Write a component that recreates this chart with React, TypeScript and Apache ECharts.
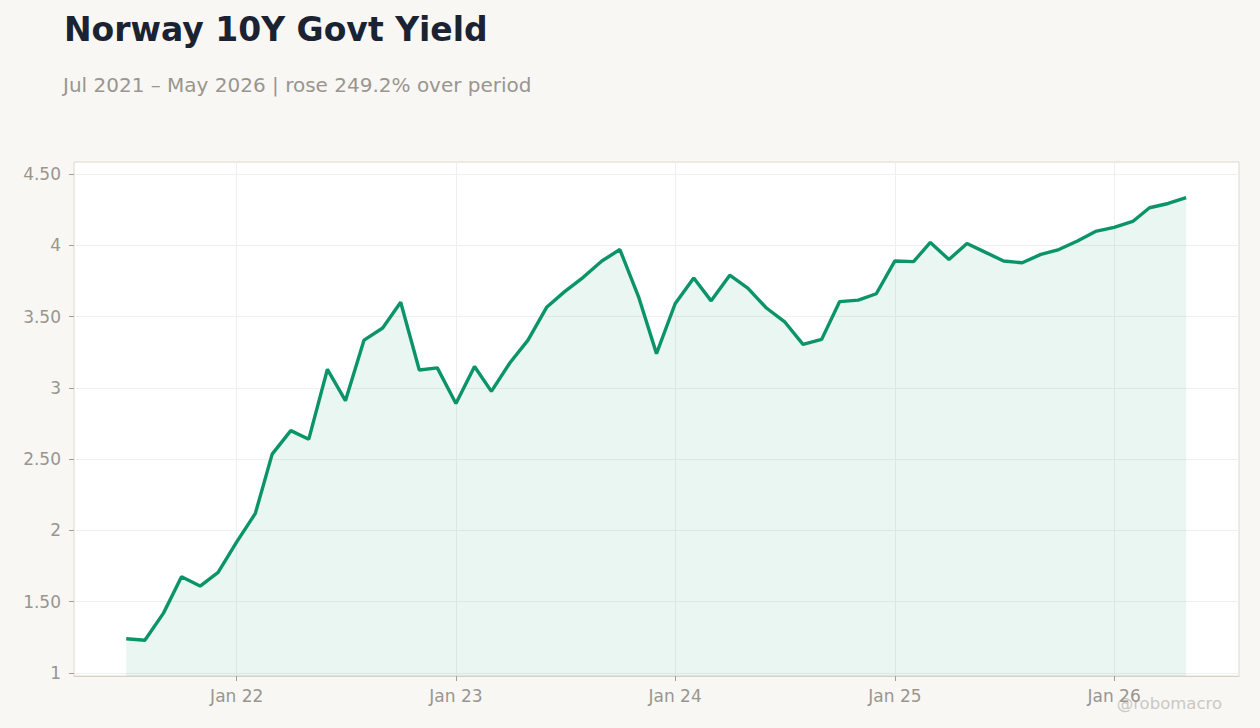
import {useEffect, useRef} from "react";
import * as echarts from "echarts";

// monthly yields, Jul 2021 .. May 2026
const yields = [
    1.24, 1.23, 1.42, 1.675, 1.61, 1.706,
    1.92, 2.12, 2.535, 2.70, 2.64, 3.13, 2.91, 3.335, 3.42, 3.60, 3.125, 3.14,
    2.89, 3.15, 2.975, 3.176, 3.335, 3.565, 3.675, 3.775, 3.89, 3.97, 3.64, 3.24,
    3.59, 3.77, 3.61, 3.79, 3.70, 3.56, 3.465, 3.305, 3.34, 3.605, 3.615, 3.66,
    3.89, 3.885, 4.02, 3.90, 4.013, 3.95, 3.89, 3.877, 3.936, 3.97, 4.03, 4.097,
    4.125, 4.167, 4.263, 4.293, 4.334,
];
const startYear = 2021;
const startMonth = 6; // July, 0-based
const tickYears = [2022, 2023, 2024, 2025, 2026];
const yTicks = [1, 1.5, 2, 2.5, 3, 3.5, 4, 4.5];

const TITLE = "Norway 10Y Govt Yield";
const SUBTITLE = "Jul 2021 – May 2026 | rose 249.2% over period";
const FONT = "DejaVu Sans, sans-serif";

export default function App() {
    const domRef = useRef<HTMLDivElement>(null);

    useEffect(() => {
        if (!domRef.current) return;
        document.body.style.margin = "0";
        const chart = echarts.init(domRef.current, null, {renderer: "svg"});

        const points = yields.map((v, i) => [new Date(startYear, startMonth + i, 1).getTime(), v]);
        const jan = tickYears.map(y => new Date(y, 0, 1).getTime());

        chart.setOption({
            animation: false,
            backgroundColor: "#f8f7f4",
            textStyle: {fontFamily: FONT},
            title: [
                {
                    text: TITLE, left: 59, top: 8,
                    textStyle: {fontFamily: FONT, fontSize: 33, fontWeight: "bold", color: "#1b2333"},
                },
                {
                    text: SUBTITLE, left: 58, top: 70,
                    textStyle: {fontFamily: FONT, fontSize: 20, fontWeight: "normal", color: "#9a958f"},
                },
            ],
            grid: {
                left: 74, right: 21, top: 162, bottom: 52,
                show: true, backgroundColor: "#ffffff", borderColor: "#ddd8cf", borderWidth: 1,
            },
            xAxis: {
                type: "value",
                min: new Date(2021, 3, 5).getTime(),
                max: new Date(2026, 6, 28).getTime(),
                axisLine: {show: true, lineStyle: {color: "#d8d3ca"}},
                axisTick: {show: true, customValues: jan, length: 5, lineStyle: {color: "#a39d96"}},
                axisLabel: {
                    customValues: jan, margin: 11, fontSize: 17, color: "#9a958f", fontFamily: FONT,
                    formatter: (v: number) => "Jan " + String(new Date(v).getFullYear()).slice(2),
                },
                splitLine: {show: true, lineStyle: {color: "#efefef", width: 1}},
            },
            yAxis: {
                type: "value",
                min: 0.979,
                max: 4.584,
                axisLine: {show: false},
                axisTick: {show: true, customValues: yTicks, length: 5, lineStyle: {color: "#a39d96"}},
                axisLabel: {
                    customValues: yTicks, margin: 13, fontSize: 17, color: "#9a958f", fontFamily: FONT,
                    formatter: (v: number) => (Number.isInteger(v) ? String(v) : v.toFixed(2)),
                },
                splitLine: {show: true, lineStyle: {color: "#efefef", width: 1}},
            },
            series: [{
                type: "line",
                data: points,
                symbol: "none",
                lineStyle: {width: 3.4, color: "#0b9467"},
                areaStyle: {color: "rgba(11,148,103,0.085)", opacity: 1, origin: "start"},
            }],
            graphic: [{
                type: "text", right: 38, top: 695,
                style: {text: "@robomacro", fontFamily: FONT, fontSize: 16.5, fill: "#cbc8c3"},
            }],
        });

        return () => chart.dispose();
    }, []);

    return <div ref={domRef} style={{width: 1260, height: 728}} />;
}
